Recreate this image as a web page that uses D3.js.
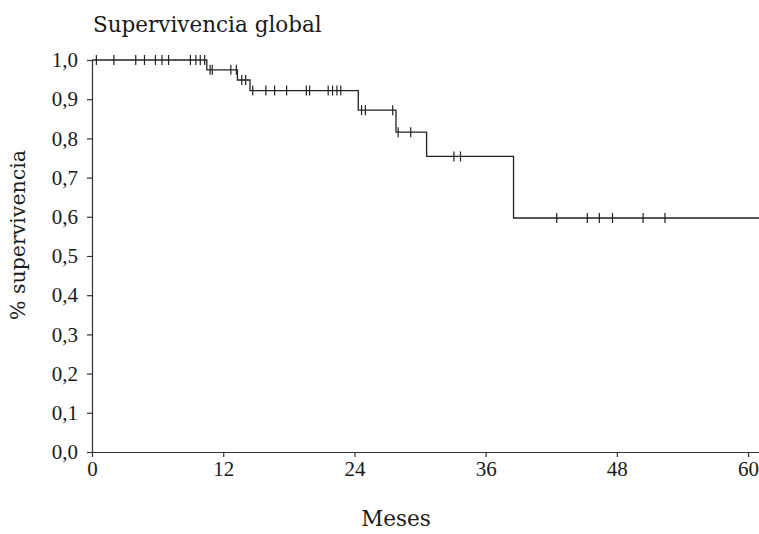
<!DOCTYPE html>
<html>
  <head>
    <title>Supervivencia global</title>
    <style type="text/css">
        body{
            margin: 0;
            background: #fff;
        }
        .axis path, .axis line{
            stroke: #333;
            stroke-width: 1.2px;
        }
        .axis text{
            font-family: "Liberation Serif", serif;
            font-size: 21px;
            fill: #1a1a1a;
        }
        .lbl{
            font-family: "DejaVu Serif", serif;
            font-size: 21.5px;
            fill: #1a1a1a;
        }
        .km{
            fill: none;
            stroke: #222;
            stroke-width: 1.3px;
        }
        .cens{
            stroke: #222;
            stroke-width: 1.2px;
        }
    </style>
  </head>

  <body>
    <div id="chart"></div>

    <script src="https://cdn.jsdelivr.net/npm/d3@7"></script>
    <script>
        // Kaplan-Meier: times where the curve drops and the level after each drop
        var stepTimes = [0, 10.5, 13.3, 14.45, 24.35, 27.8, 30.6, 38.55];
        var stepSurv = [1.0, 0.975, 0.949, 0.922, 0.872, 0.816, 0.754, 0.597];
        var lastTime = 61;

        // censored patients (months)
        var censorTimes = [0.4, 2.0, 4.0, 4.8, 5.8, 6.4, 7.0, 9.0, 9.5, 9.9, 10.3,
            10.8, 11.0, 12.7, 13.2, 13.7, 14.05, 14.7, 15.9, 16.7, 17.8, 19.6, 19.9,
            21.6, 22.0, 22.4, 22.75, 24.65, 25.0, 27.5, 28.0, 29.15, 33.1, 33.7,
            42.5, 45.3, 46.4, 47.6, 50.4, 52.4];

        var xTicks = [0, 12, 24, 36, 48, 60];
        var yTicks = [0, 0.1, 0.2, 0.3, 0.4, 0.5, 0.6, 0.7, 0.8, 0.9, 1.0];

        var width = 759, height = 534;

        var svg = d3.select("#chart").append("svg")
            .attr("width", width)
            .attr("height", height);

        var x = d3.scaleLinear().domain([0, lastTime]).range([92, 759]);
        var y = d3.scaleLinear().domain([0, 1]).range([452, 60]);

        // axes
        svg.append("g")
            .attr("class", "axis")
            .attr("transform", "translate(0," + y(0) + ")")
            .call(d3.axisBottom(x).tickValues(xTicks).tickSize(5).tickSizeOuter(0)
                .tickFormat(d3.format("d")))
            .call(g => g.selectAll("text").attr("y", 7).attr("dy", "0.8em"));

        svg.append("g")
            .attr("class", "axis")
            .attr("transform", "translate(" + x(0) + ",0)")
            .call(d3.axisLeft(y).tickValues(yTicks).tickSize(5).tickSizeOuter(0)
                .tickFormat(d => d3.format(".1f")(d).replace(".", ",")))
            .call(g => g.selectAll("text").attr("x", -14));

        // step curve
        var pts = [];
        for (var i = 0; i < stepTimes.length; i++){
            pts.push([stepTimes[i], stepSurv[i]]);
        }
        pts.push([lastTime, stepSurv[stepSurv.length - 1]]);

        svg.append("path")
            .datum(pts)
            .attr("class", "km")
            .attr("d", d3.line().x(d => x(d[0])).y(d => y(d[1])).curve(d3.curveStepAfter));

        function survAt(t){
            var s = 1;
            for (var i = 0; i < stepTimes.length; i++){
                if (stepTimes[i] <= t) s = stepSurv[i];
            }
            return s;
        }

        svg.append("g").selectAll("line")
            .data(censorTimes)
            .enter().append("line")
                .attr("class", "cens")
                .attr("x1", d => x(d)).attr("x2", d => x(d))
                .attr("y1", d => y(survAt(d)) - 5)
                .attr("y2", d => y(survAt(d)) + 5);

        // labels
        svg.append("text")
            .attr("class", "lbl")
            .attr("x", 93).attr("y", 32)
            .text("Supervivencia global");

        svg.append("text")
            .attr("class", "lbl")
            .attr("text-anchor", "middle")
            .attr("x", 396).attr("y", 526)
            .text("Meses");

        svg.append("text")
            .attr("class", "lbl")
            .attr("text-anchor", "middle")
            .style("font-size", "20.5px")
            .attr("transform", "translate(25,235) rotate(-90)")
            .text("% supervivencia");
    </script>
  </body>
</html>
